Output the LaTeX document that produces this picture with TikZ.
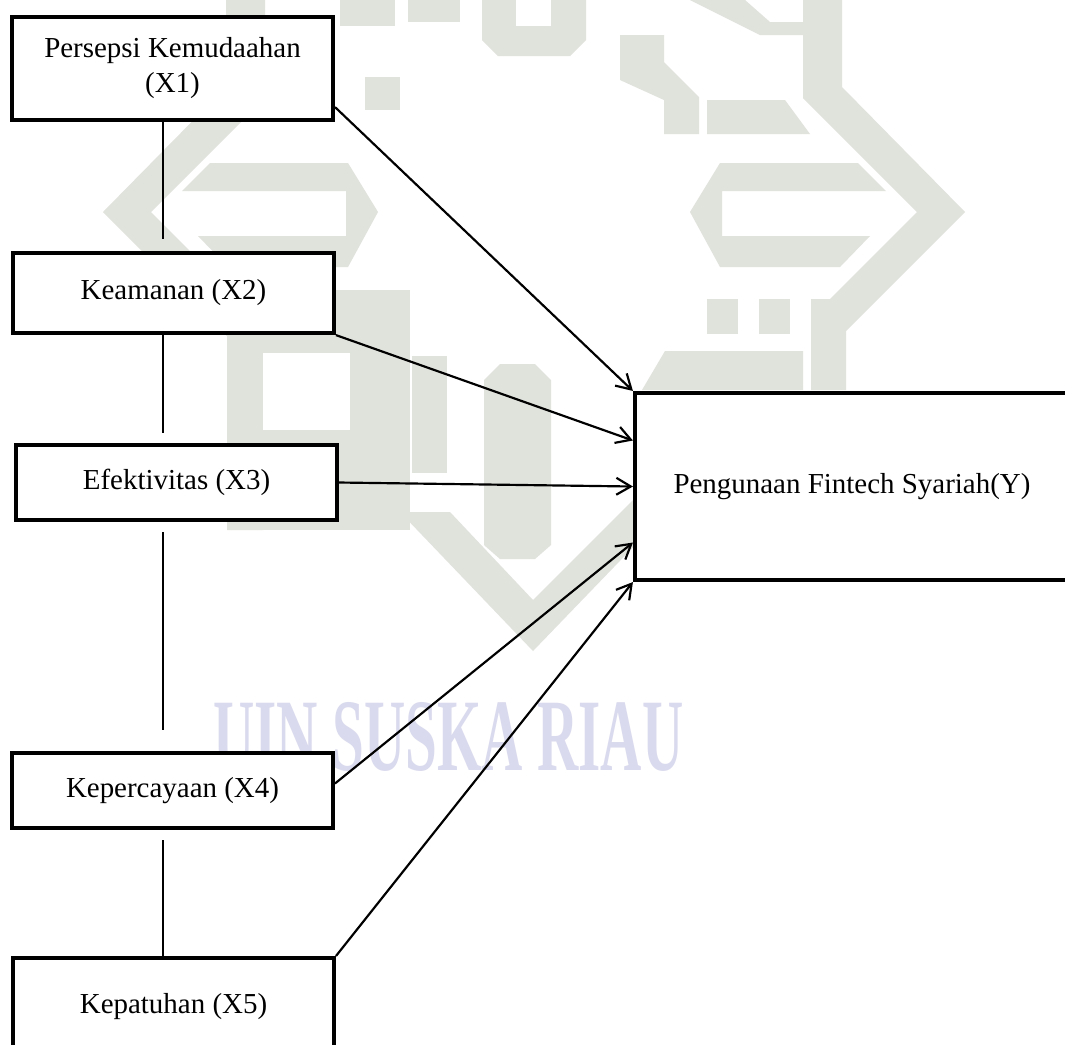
\documentclass[tikz,border=0pt]{standalone}
\usepackage{fontspec}
\setmainfont{Liberation Serif}
\usetikzlibrary{arrows.meta, positioning, calc}

\definecolor{wmgray}{RGB}{224,226,220}
\definecolor{wmtext}{RGB}{218,218,238}

\tikzset{
  var/.style={draw, line width=1.7pt, fill=white, align=center, inner sep=0pt,
    minimum width=133pt, font=\fontsize{12}{14.5}\selectfont},
  link/.style={line width=0.8pt},
  effect/.style={->, line width=0.9pt},
  logo/.style={fill=wmgray, draw=none},
  hole/.style={fill=white, draw=none}
}

\begin{document}
\begin{tikzpicture}[x=0.4145pt, y=-0.4145pt, >={Straight Barb[length=6pt,width=7pt]}]
\useasboundingbox (0,0) rectangle (1065,1044);
\clip (0,0) rectangle (1065,1044);
\fill[white] (0,0) rectangle (1065,1044);

% watermark logo
\fill[logo] (803,0) -- (842,0) -- (842,87) -- (965,212) -- (846,331) -- (846,390) -- (811,390) -- (811,299) -- (830,299) -- (917,212) -- (803,98) -- cycle;
\fill[logo] (265,0) -- (226,0) -- (226,87) -- (103,212) -- (227,336) -- (227,530) -- (263,530) -- (263,299) -- (238,299) -- (151,212) -- (265,98) -- cycle;
\fill[logo] (690,212) -- (720,163) -- (858,163) -- (886,191) -- (722,191) -- (722,236) -- (870,236) -- (840,267) -- (720,267) -- cycle;
\fill[logo] (378,212) -- (348,163) -- (210,163) -- (182,191) -- (346,191) -- (346,236) -- (198,236) -- (228,267) -- (348,267) -- cycle;
\fill[logo] (482,0) -- (586,0) -- (586,40) -- (570,56) -- (498,56) -- (482,40) -- cycle;
\fill[hole] (516,0) rectangle (551,26);
\fill[logo] (408,0) rectangle (460,22);
\fill[logo] (340,0) rectangle (395,26);
\fill[logo] (365,77) rectangle (400,110);
\fill[logo] (620,35) -- (664,35) -- (664,62) -- (699,97) -- (699,134) -- (664,134) -- (664,100) -- (620,80) -- cycle;
\fill[logo] (690,0) -- (745,0) -- (770,22) -- (803,22) -- (803,35) -- (760,35) -- cycle;
\fill[logo] (707,100) -- (785,100) -- (810,134) -- (707,134) -- cycle;
\fill[logo] (707,299) rectangle (738,334);
\fill[logo] (759,299) rectangle (790,334);
\fill[logo] (665,351) -- (803,351) -- (803,390) -- (642,390) -- cycle;
\fill[logo] (263,290) rectangle (410,530);
\fill[hole] (263,353) rectangle (350,430);
\fill[logo] (412,356) rectangle (447,473);
\fill[logo] (484,380) -- (500,364) -- (535,364) -- (551,380) -- (551,545) -- (535,559) -- (500,559) -- (484,545) -- cycle;
\fill[logo] (400,512) -- (450,512) -- (533,600) -- (640,493) -- (640,540) -- (533,651) -- cycle;
\node[anchor=base west, inner sep=0pt, text=wmtext, font=\fontsize{42.6}{42.6}\selectfont\bfseries] (wm) at (213,770) {\scalebox{0.556}[1]{UIN SUSKA RIAU}};

% variables
\node[var, minimum height=42.7pt] (X1) at (172.5,68.5) {Persepsi Kemudaahan\\(X1)};
\node[var, minimum height=33.2pt] (X2) at (173.5,293) {Keamanan (X2)};
\node[var, minimum height=31.1pt] (X3) at (176.5,482.5) {Efektivitas (X3)};
\node[var, minimum height=31.1pt] (X4) at (172.5,790.5) {Kepercayaan (X4)};
\node[var, minimum height=40.6pt] (X5) at (173.5,1007) {Kepatuhan (X5)};
\node[var, minimum width=179.9pt, minimum height=77.5pt] (Y) at (852,486.5) {Pengunaan Fintech Syariah(Y)};

% links between the x variables
\coordinate (spine) at (163,0);
\draw[link] (X1.south -| spine) -- ($(X2.north -| spine)+(0,-12)$);
\draw[link] (X2.south -| spine) -- ($(X3.north -| spine)+(0,-10)$);
\draw[link] ($(X3.south -| spine)+(0,10)$) -- ($(X4.north -| spine)+(0,-21)$);
\draw[link] ($(X4.south -| spine)+(0,10)$) -- (X5.north -| spine);

% effects on Y
\draw[effect] ($(X1.south east)+(0,-15)$) -- (Y.north west);
\draw[effect] (X2.south east) -- ($(Y.west)+(0,-46)$);
\draw[effect] (X3.east) -- (Y.west);
\draw[effect] ($(X4.east)+(0,-7)$) -- ($(Y.west)+(0,56)$);
\draw[effect] (X5.north east) -- (Y.south west);
\end{tikzpicture}
\end{document}
